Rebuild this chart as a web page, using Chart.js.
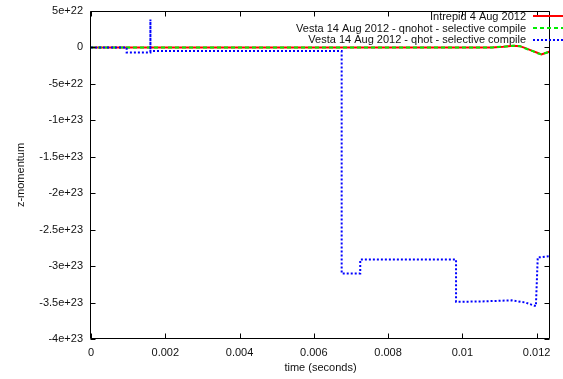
<!DOCTYPE html>
<html>
<head>
<meta charset="utf-8">
<script src="https://cdn.jsdelivr.net/npm/chart.js@4.4.1/dist/chart.umd.min.js"></script>
<style>
html,body{margin:0;padding:0;background:#fff;}
canvas{display:block;}
</style>
</head>
<body>
<canvas id="c" width="563" height="379"></canvas>
<script>
// ---- data ----
const seriesLabels = [
  "Intrepid 4 Aug 2012",
  "Vesta 14 Aug 2012 - qnohot - selective compile",
  "Vesta 14 Aug 2012 - qhot - selective compile"
];
const intrepidTime = [0, 0.0108, 0.0111, 0.01137, 0.01155, 0.0117, 0.0119, 0.0120, 0.01213, 0.01222, 0.01234];
const intrepidZ    = [0, 0, 1e21, 2.3e21, 1.8e21, -1e21, -5e21, -7e21, -9.6e21, -8e21, -5.9e21];
const qnohotTime   = [0, 0.0108, 0.0111, 0.01137, 0.01155, 0.0117, 0.0119, 0.0120, 0.01213, 0.01222, 0.01234];
const qnohotZ      = [0, 0, 1e21, 2.3e21, 1.8e21, -1.5e21, -5e21, -7.5e21, -9.6e21, -8e21, -5.9e21];
const qhotTime = [0, 0.00096, 0.00096, 0.0016, 0.0016, 0.0016, 0.00675, 0.00675, 0.00725, 0.00725,
                  0.00983, 0.00983, 0.0105, 0.01133, 0.0117, 0.01198, 0.01203, 0.0121, 0.01234];
const qhotZ    = [0, 0, -7e21, -7e21, 3.85e22, -5e21, -5e21, -3.1e23, -3.1e23, -2.91e23,
                  -2.91e23, -3.49e23, -3.485e23, -3.47e23, -3.5e23, -3.55e23, -2.88e23, -2.88e23, -2.865e23];
const xTickValues = [0, 0.002, 0.004, 0.006, 0.008, 0.01, 0.012];
const xTickLabels = ["0", "0.002", "0.004", "0.006", "0.008", "0.01", "0.012"];
const yTickValues = [5e22, 0, -5e22, -1e23, -1.5e23, -2e23, -2.5e23, -3e23, -3.5e23, -4e23];
const yTickLabels = ["5e+22", "0", "-5e+22", "-1e+23", "-1.5e+23", "-2e+23", "-2.5e+23", "-3e+23", "-3.5e+23", "-4e+23"];
const xTitle = "time (seconds)";
const yTitle = "z-momentum";

// ---- build ----
const toPts = (t, v) => t.map((x, i) => ({x: x, y: v[i]}));
const FONT = '"Liberation Sans", Arial, sans-serif';
const TXT = '#111';

const frame = {
  id: 'frame',
  afterDatasetsDraw(chart) {
    const ctx = chart.ctx, a = chart.chartArea;
    const xs = chart.scales.x, ys = chart.scales.y;
    ctx.save();
    ctx.strokeStyle = '#000';
    ctx.lineWidth = 1;
    ctx.setLineDash([]);
    ctx.beginPath();
    const L = Math.round(a.left) - 0.5, R = Math.round(a.right) - 0.5;
    const T = Math.round(a.top) + 0.5, B = Math.round(a.bottom) - 0.5;
    ctx.rect(L, T, R - L, B - T);
    const tl = 5;
    xTickValues.forEach(v => {
      const px = Math.round(xs.getPixelForValue(v)) + 0.5;
      ctx.moveTo(px, B); ctx.lineTo(px, B - tl);
      ctx.moveTo(px, T); ctx.lineTo(px, T + tl);
    });
    yTickValues.forEach(v => {
      const py = Math.round(ys.getPixelForValue(v)) + 0.5;
      ctx.moveTo(L, py); ctx.lineTo(L + tl, py);
      ctx.moveTo(R, py); ctx.lineTo(R - tl, py);
    });
    ctx.stroke();
    ctx.restore();
  },
  afterDraw(chart) {
    const ctx = chart.ctx;
    const rows = [16, 28, 39.5];
    const order = [2, 1, 0]; // dataset index for each legend row
    ctx.save();
    ctx.font = '11px ' + FONT;
    ctx.textAlign = 'right';
    ctx.textBaseline = 'middle';
    rows.forEach((y, r) => {
      const ds = chart.data.datasets[order[r]];
      ctx.fillStyle = TXT;
      ctx.fillText(ds.label, 526, y + 0.5);
      ctx.strokeStyle = ds.borderColor;
      ctx.lineWidth = ds.borderWidth;
      ctx.setLineDash(ds.borderDash || []);
      ctx.beginPath();
      ctx.moveTo(533, Math.round(y));
      ctx.lineTo(566, Math.round(y));
      ctx.stroke();
    });
    ctx.restore();
  }
};

new Chart(document.getElementById('c'), {
  type: 'line',
  data: {
    datasets: [
      {label: seriesLabels[2], data: toPts(qhotTime, qhotZ), borderColor: '#0000ff',
       borderWidth: 2, borderDash: [2, 2], pointRadius: 0, tension: 0, fill: false, order: 0},
      {label: seriesLabels[1], data: toPts(qnohotTime, qnohotZ), borderColor: '#00ee00',
       borderWidth: 2, borderDash: [4, 3], pointRadius: 0, tension: 0, fill: false, order: 1},
      {label: seriesLabels[0], data: toPts(intrepidTime, intrepidZ), borderColor: '#ff0000',
       borderWidth: 2, pointRadius: 0, tension: 0, fill: false, order: 2}
    ]
  },
  options: {
    responsive: false,
    animation: false,
    events: [],
    layout: {padding: {left: 0, right: 13, top: 11, bottom: 0}},
    plugins: {legend: {display: false}, tooltip: {enabled: false}},
    scales: {
      x: {
        type: 'linear', min: 0, max: 0.01236,
        afterBuildTicks: s => { s.ticks = xTickValues.map(v => ({value: v})); },
        afterFit: s => { s.height = 40; s.paddingLeft = 0; s.paddingRight = 0; },
        grid: {display: false, drawTicks: false},
        border: {display: false},
        ticks: {
          padding: 7, color: TXT, font: {family: FONT, size: 11}, maxRotation: 0, autoSkip: false,
          callback: (v, i) => xTickLabels[i]
        },
        title: {display: true, text: xTitle, color: TXT, font: {family: FONT, size: 11},
                padding: {top: 0, bottom: 4}}
      },
      y: {
        type: 'linear', min: -4e23, max: 5e22,
        afterBuildTicks: s => { s.ticks = yTickValues.map(v => ({value: v})); },
        afterFit: s => { s.width = 91; s.paddingTop = 0; s.paddingBottom = 0; },
        grid: {display: false, drawTicks: false},
        border: {display: false},
        ticks: {
          padding: 8, color: TXT, font: {family: FONT, size: 11}, autoSkip: false,
          callback: (v, i) => yTickLabels[i]
        },
        title: {display: true, text: yTitle, color: TXT, font: {family: FONT, size: 11},
                padding: {top: 14, bottom: 0}}
      }
    }
  },
  plugins: [frame]
});
</script>
</body>
</html>
